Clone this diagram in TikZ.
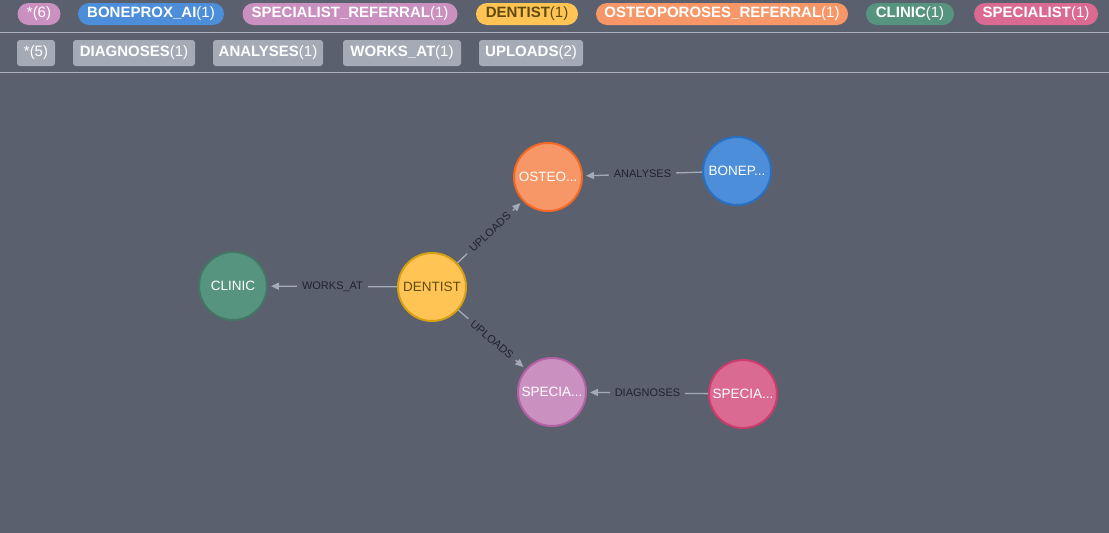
\documentclass[tikz,border=0pt]{standalone}
\usepackage{fontspec}
\setmainfont{Liberation Sans}
\usetikzlibrary{arrows.meta}

\definecolor{canvas}{HTML}{5B606F}
\definecolor{ruler}{HTML}{A9AEB9}
\definecolor{edgegray}{HTML}{A5ABB6}
\definecolor{relgray}{HTML}{A5ABB6}
\definecolor{labeldark}{HTML}{1F2330}
\definecolor{lilacfill}{HTML}{C990C0}
\definecolor{lilacline}{HTML}{B261A5}
\definecolor{bluefill}{HTML}{4C8EDA}
\definecolor{blueline}{HTML}{2870C2}
\definecolor{yellowfill}{HTML}{FFC454}
\definecolor{yellowline}{HTML}{D7A013}
\definecolor{yellowtext}{HTML}{604A0E}
\definecolor{orangefill}{HTML}{F79767}
\definecolor{orangeline}{HTML}{F36924}
\definecolor{greenfill}{HTML}{569480}
\definecolor{greenline}{HTML}{447666}
\definecolor{rosefill}{HTML}{DA6A92}
\definecolor{roseline}{HTML}{CC3C6C}

\tikzset{
  pill/.style={rounded corners=11pt, minimum height=22pt, inner sep=0pt,
    font=\fontsize{15}{16}\selectfont},
  relbox/.style={rounded corners=3pt, minimum height=26pt, inner sep=0pt,
    fill=relgray, text=white, font=\fontsize{15}{16}\selectfont},
  entity/.style={circle, minimum size=68pt, inner sep=0pt, line width=2pt,
    text=white, font=\fontsize{13.5}{14}\selectfont},
  rel/.style={draw=edgegray, line width=1.3pt,
    -{Triangle[length=8pt,width=7pt]}, shorten >=3pt},
  rellabel/.style={fill=canvas, inner xsep=5pt, inner ysep=1pt,
    text=labeldark, font=\fontsize{11}{12}\selectfont}
}

\begin{document}
\begin{tikzpicture}[x=1pt, y=-1pt]
  \fill[canvas] (0,0) rectangle (1109,533);
  \useasboundingbox (0,0) rectangle (1109,533);

  % legend bars
  \draw[ruler, line width=1pt] (0,32) -- (1109,32) (0,72) -- (1109,72);

  \foreach \cx/\w/\lbl/\num/\col/\tc [count=\i] in
    {39/43/*/6/lilacfill/white,
     151/146/BONEPROX\_AI/1/bluefill/white,
     350/215/SPECIALIST\_REFERRAL/1/lilacfill/white,
     527/102/DENTIST/1/yellowfill/yellowtext,
     722/252/OSTEOPOROSES\_REFERRAL/1/orangefill/white,
     910/88/CLINIC/1/greenfill/white,
     1036/124/SPECIALIST/1/rosefill/white}
  {
    \node[pill, fill=\col, text=\tc, minimum width=\w] (label\i) at (\cx,14)
      {\ifnum\i=1 \lbl\else\textbf{\lbl}\fi(\num)};
  }

  \foreach \cx/\w/\lbl/\num [count=\j] in
    {36/38/*/5,
     134/122/DIAGNOSES/1,
     268/110/ANALYSES/1,
     402/118/WORKS\_AT/1,
     531/104/UPLOADS/2}
  {
    \node[relbox, minimum width=\w] (type\j) at (\cx,53)
      {\ifnum\j=1 \lbl\else\textbf{\lbl}\fi(\num)};
  }

  % graph
  \node[entity, fill=greenfill, draw=greenline] (clinic) at (233,286) {CLINIC};
  \node[entity, fill=yellowfill, draw=yellowline, text=yellowtext] (dentist) at (432,287) {DENTIST};
  \node[entity, fill=orangefill, draw=orangeline] (osteo) at (548,177) {OSTEO...};
  \node[entity, fill=bluefill, draw=blueline] (boneprox) at (737,171) {BONEP...};
  \node[entity, fill=lilacfill, draw=lilacline] (referral) at (552,392) {SPECIA...};
  \node[entity, fill=rosefill, draw=roseline] (specialist) at (743,394) {SPECIA...};

  \draw[rel] (dentist) -- node[rellabel] {WORKS\_AT} (clinic);
  \draw[rel] (dentist) -- node[rellabel, sloped] {UPLOADS} (osteo);
  \draw[rel] (dentist) -- node[rellabel, sloped] {UPLOADS} (referral);
  \draw[rel] (boneprox) -- node[rellabel] {ANALYSES} (osteo);
  \draw[rel] (specialist) -- node[rellabel] {DIAGNOSES} (referral);
\end{tikzpicture}
\end{document}
